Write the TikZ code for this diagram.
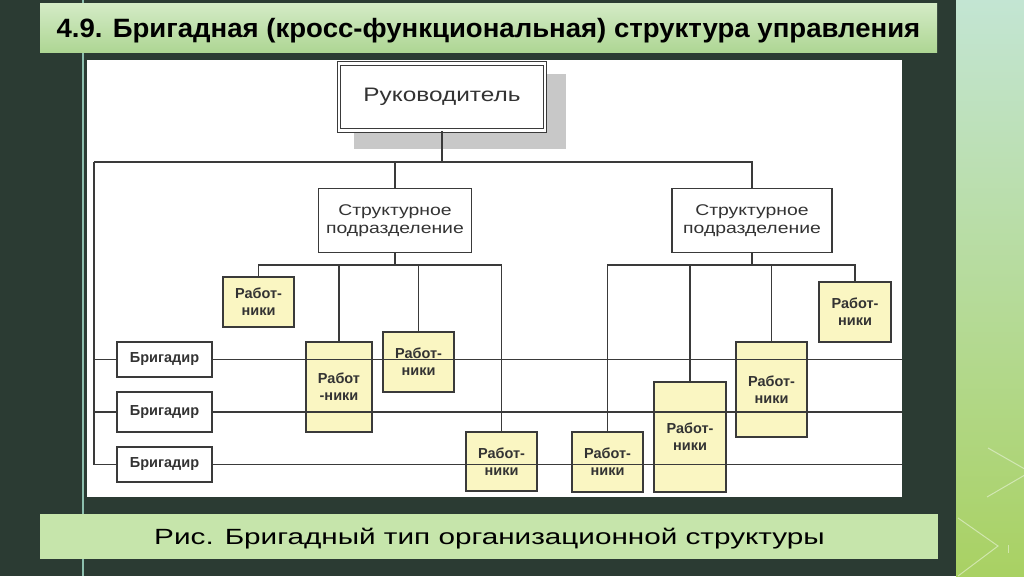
\documentclass[tikz,border=0pt]{standalone}
\usepackage{fontspec}
\setmainfont{Liberation Sans}
\newfontfamily\titlefont[FakeStretch=1.04]{Liberation Sans}
\newfontfamily\capfont[FakeStretch=1.35]{Liberation Sans}
\newfontfamily\widefont[FakeStretch=1.25]{Liberation Sans}
\usetikzlibrary{positioning}
\definecolor{slate}{HTML}{2B3B33}
\definecolor{mint}{HTML}{C3E5D3}
\definecolor{midgreen}{HTML}{BCDFA0}
\definecolor{lime}{HTML}{A9D163}
\definecolor{barhi}{HTML}{D4EBC6}
\definecolor{barlo}{HTML}{AED694}
\definecolor{capbar}{HTML}{C6E5AB}
\definecolor{tealline}{HTML}{8DBFAE}
\definecolor{shadegray}{HTML}{C8C8C8}
\definecolor{straw}{HTML}{FAF6C2}
\definecolor{edge}{HTML}{3A3A3A}
\definecolor{ink}{HTML}{333333}

\begin{document}
\begin{tikzpicture}[x=1pt, y=-1pt,
  every node/.style={inner sep=0pt, text=ink},
  chiefbox/.style={draw=edge, line width=1.1pt, double=white, double distance=2.2pt,
    minimum width=206pt, minimum height=67pt, font=\widefont\fontsize{19.5}{22}\selectfont},
  unitbox/.style={draw=edge, line width=1.8pt, fill=white, minimum width=153pt,
    minimum height=64pt, align=center, font=\widefont\fontsize{15.5}{18}\selectfont},
  brigbox/.style={draw=edge, line width=1.8pt, fill=white, minimum width=95pt,
    minimum height=35pt, font=\bfseries\fontsize{14.5}{17}\selectfont},
  workbox/.style={draw=edge, line width=1.8pt, fill=straw, minimum width=71pt,
    align=center, font=\bfseries\fontsize{14.5}{17}\selectfont},
  lnk/.style={draw=edge, line width=1.8pt},
  chev/.style={draw=white, opacity=0.45, line width=1pt}
]
\useasboundingbox (0,0) rectangle (1024,576);
\clip (0,0) rectangle (1024,576);
% slide background
\fill[slate] (0,0) rectangle (1024,576);
\shade[top color=mint, middle color=midgreen, bottom color=lime] (956,0) rectangle (1024,576);
\draw[chev] (988,448) -- (1030,472) -- (987,497);
\draw[chev] (958,518) -- (998,546) -- (958,576);
\draw[chev] (1008,545) -- (1008,553);
\draw[tealline, line width=2.5pt] (83,0) -- (83,576);
% title and caption bars
\shade[top color=barhi, bottom color=barlo] (40,3) rectangle (937,52);
\node[anchor=base, text=black, font=\titlefont\bfseries\fontsize{26.5}{30}\selectfont] (title)
  at (488.5,37) {4.9. Бригадная (кросс-функциональная) структура управления};
\fill[capbar] (40,514) rectangle (938,559);
\node[anchor=base, text=black, font=\capfont\fontsize{22}{26}\selectfont] (caption)
  at (489.5,544) {Рис. Бригадный тип организационной структуры};
% diagram panel
\fill[white] (87,60) rectangle (902,497);
\fill[shadegray] (354,74) rectangle (566,149);
% head and units
\node[chiefbox, fill=white] (chief) at (442,97) {Руководитель};
\node[unitbox] (sp1) at (395,220.5) {Структурное\\подразделение};
\node[unitbox, minimum width=160pt] (sp2) at (752,220.5) {Структурное\\подразделение};
% brigadiers
\node[brigbox] (b1) at (164.5,359.5) {Бригадир};
\node[brigbox, minimum height=40pt] (b2) at (164.5,412) {Бригадир};
\node[brigbox] (b3) at (164.5,464.5) {Бригадир};
% workers
\node[workbox, minimum height=50pt] (w1) at (258.5,302) {Работ-\\ники};
\node[workbox, minimum width=66pt, minimum height=90pt] (w2) at (339,387) {Работ\\-ники};
\node[workbox, minimum height=60pt] (w3) at (418.5,362) {Работ-\\ники};
\node[workbox, minimum height=59pt] (w4) at (501.5,461.5) {Работ-\\ники};
\node[workbox, minimum height=60pt] (w5) at (607.5,462) {Работ-\\ники};
\node[workbox, minimum width=72pt, minimum height=110pt] (w6) at (690,437) {Работ-\\ники};
\node[workbox, minimum height=95pt] (w7) at (771.5,389.5) {Работ-\\ники};
\node[workbox, minimum width=72pt, minimum height=60pt] (w8) at (855,312) {Работ-\\ники};
% bus points
\coordinate (topbus) at (94,162);
\coordinate (busA) at (0,265);
\coordinate (rim) at (902,0);
% head to units
\draw[lnk] (chief.south) -- (chief.south |- topbus);
\draw[lnk] (topbus) -- (sp2.north |- topbus) -- (sp2.north);
\draw[lnk] (sp1.north |- topbus) -- (sp1.north);
% units to workers
\draw[lnk] (sp1.south) -- (sp1.south |- busA);
\draw[lnk] (w1.north) -- (w1.north |- busA) -- (w4.north |- busA) -- (w4.north);
\draw[lnk] (sp2.south) -- (sp2.south |- busA);
\draw[lnk] (w5.north) -- (w5.north |- busA) -- (w8.north |- busA) -- (w8.north);
\foreach \w in {w2,w3,w6,w7}
  \draw[lnk] (\w.north) -- (\w.north |- busA);
% brigade lines
\draw[lnk] (topbus) -- (topbus |- b3) -- (b3.west);
\foreach \b in {b1,b2}
  \draw[lnk] (topbus |- \b) -- (\b.west);
\foreach \b in {b1,b2,b3}
  \draw[lnk] (\b.east) -- (\b.east -| rim);
\end{tikzpicture}
\end{document}
